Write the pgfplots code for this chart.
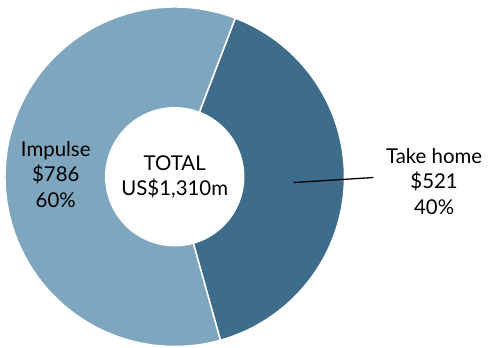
\documentclass[border=0pt]{standalone}
\usepackage{pgfplots}
\pgfplotsset{compat=1.18}
\usepackage{fontspec}
\setmainfont{Lato}
\definecolor{impulse}{RGB}{127,166,191}
\definecolor{takehome}{RGB}{62,108,139}
\begin{document}
\begin{tikzpicture}
  \fontsize{20.5}{25.5}\selectfont
  %%% values (US$m)
  \def\vImp{786}
  \def\vTake{521}
  %%% geometry, in pixels of the picture
  \def\cx{175.5}
  \def\cy{167.5}
  \def\R{170.5}
  \def\r{70}
  \def\start{69.1}
  \pgfmathsetmacro{\aTake}{\start-360*(\vTake/(\vImp+\vTake))}
  \pgfmathsetmacro{\aImp}{\aTake-360*(\vImp/(\vImp+\vTake))}
  \begin{axis}[
    scale only axis,
    width=489pt, height=345pt,
    xmin=0, xmax=489, ymin=0, ymax=345,
    hide axis, clip=false,
    ]
    \addplot [fill=takehome, draw=white, line width=1.5pt, domain=\aTake:\start, samples=120]
      ({\cx+\R*cos(x)},{\cy+\R*sin(x)}) -- (axis cs:\cx,\cy) -- cycle;
    \addplot [fill=impulse, draw=white, line width=1.5pt, domain=\aImp:\aTake, samples=160]
      ({\cx+\R*cos(x)},{\cy+\R*sin(x)}) -- (axis cs:\cx,\cy) -- cycle;
    \addplot [fill=white, draw=none, domain=0:360, samples=120]
      ({\cx+\r*cos(x)},{\cy+\r*sin(x)}) -- cycle;
    
    \node [align=center] at (axis cs:\cx,167) {TOTAL\\US\$1,310m};
    \node [align=center] at (axis cs:56,170) {Impulse\\\$786\\60\%};
    \node [align=center] at (axis cs:436,163) {Take home\\\$521\\40\%};
    \draw [black, line width=1.3pt] (axis cs:295,161.7) -- (axis cs:375,166.7);
    \path (axis cs:0,0) (axis cs:489,345);
  \end{axis}
\end{tikzpicture}
\end{document}
